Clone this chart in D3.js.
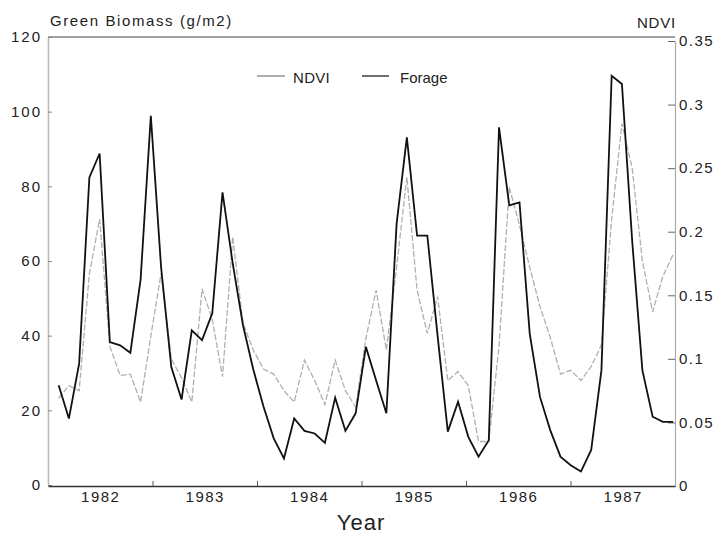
<!DOCTYPE html>
<html>
<head>
<meta charset="utf-8">
<script src="https://cdn.jsdelivr.net/npm/d3@7"></script>
<style>
  body { margin: 0; background: #fff; }
  text { font-family: "Liberation Sans", Arial, sans-serif; fill: #222; }
</style>
</head>
<body>
<div id="chart"></div>
<script>
// observations start at ~1981.6 and come every ~0.098 yr
const startYear = 1981.602;
const stepYear = 0.098;

const forage = [26.7, 17.8, 32.5, 82.4, 88.8, 38.3, 37.4, 35.4, 55, 98.9,
  58.4, 31.6, 22.9, 41.4, 38.8, 46, 78.4, 59.3, 42.8, 31,
  21, 12.5, 7.1, 17.8, 14.5, 13.8, 11.3, 23.4, 14.5, 19.2,
  37, 28, 19.2, 70, 93.1, 66.8, 66.8, 40, 14.3, 22.3,
  12.9, 7.6, 12, 95.8, 74.9, 75.7, 40.5, 23.6, 14.7, 7.6,
  5.3, 3.6, 9.4, 30.7, 109.6, 107.4, 65.5, 30.7, 18.3, 16.9, 16.9];

const ndvi = [0.069, 0.079, 0.075, 0.167, 0.21, 0.11, 0.087, 0.088, 0.066, 0.118,
  0.167, 0.10, 0.085, 0.066, 0.155, 0.131, 0.086, 0.196, 0.128, 0.107,
  0.092, 0.088, 0.075, 0.066, 0.099, 0.083, 0.064, 0.099, 0.075, 0.062,
  0.116, 0.154, 0.107, 0.172, 0.243, 0.154, 0.12, 0.149, 0.083, 0.09,
  0.079, 0.035, 0.035, 0.11, 0.235, 0.205, 0.172, 0.141, 0.117, 0.088,
  0.091, 0.083, 0.094, 0.111, 0.21, 0.285, 0.25, 0.177, 0.137, 0.165, 0.182];

const yearLabels = [1982, 1983, 1984, 1985, 1986, 1987];
const yearBreaks = [1982.5, 1983.5, 1984.5, 1985.5, 1986.5];
const biomassTicks = [0, 20, 40, 60, 80, 100, 120];
const ndviTicks = [0, 0.05, 0.1, 0.15, 0.2, 0.25, 0.3, 0.35];

const width = 721, height = 534;
const plotLeft = 48, plotRight = 675, plotTop = 37, plotBottom = 486;

const svg = d3.select("#chart").append("svg")
  .attr("width", width)
  .attr("height", height);

const x = d3.scaleLinear().domain([1981.5, 1987.5]).range([plotLeft, plotRight]);
const yL = d3.scaleLinear().domain([0, 120]).range([plotBottom - 1, plotTop]);
const yR = d3.scaleLinear().domain([0, 0.35]).range([plotBottom, plotTop + 4]);

const tOf = i => startYear + i * stepYear;

// frame
svg.append("line")
  .attr("x1", plotLeft).attr("x2", plotRight)
  .attr("y1", plotTop).attr("y2", plotTop)
  .attr("stroke", "#444").attr("stroke-width", 1.2);

// left axis
const gL = svg.append("g")
  .attr("transform", `translate(${plotLeft},0)`)
  .call(d3.axisLeft(yL).tickValues(biomassTicks).tickSize(-4).tickPadding(6).tickSizeOuter(0));
gL.select(".domain").attr("stroke", "#bbb").attr("stroke-width", 1.6);
gL.selectAll(".tick line").attr("stroke", "#888");
gL.selectAll("text").style("font-size", "15px").style("letter-spacing", "2px").attr("fill", "#222");

// right axis
const gR = svg.append("g")
  .attr("transform", `translate(${plotRight},0)`)
  .call(d3.axisRight(yR).tickValues(ndviTicks).tickSize(-7).tickPadding(4).tickSizeOuter(0)
    .tickFormat(d => String(+d.toFixed(2))));
gR.select(".domain").attr("stroke", "#aaa").attr("stroke-width", 1.2);
gR.selectAll(".tick line").attr("stroke", "#666");
gR.selectAll("text").style("font-size", "15px").style("letter-spacing", "1.5px").attr("fill", "#222");

// bottom axis: year labels and half-year breaks
const gB = svg.append("g")
  .attr("transform", `translate(0,${plotBottom})`)
  .call(d3.axisBottom(x).tickValues(yearLabels).tickSize(0).tickPadding(5)
    .tickFormat(d3.format("d")));
gB.select(".domain").attr("stroke", "#333").attr("stroke-width", 1.4);
gB.selectAll("text").style("font-size", "15px").style("letter-spacing", "1.5px").attr("fill", "#222");

const gB2 = svg.append("g")
  .attr("transform", `translate(0,${plotBottom})`)
  .call(d3.axisBottom(x).tickValues(yearBreaks).tickSize(-5).tickFormat(""));
gB2.select(".domain").remove();
gB2.selectAll(".tick line").attr("stroke", "#555");

// series
const ndviLine = d3.line().x((d, i) => x(tOf(i))).y(d => yR(d));
const forageLine = d3.line().x((d, i) => x(tOf(i))).y(d => yL(d));

svg.append("path")
  .datum(ndvi)
  .attr("d", ndviLine)
  .attr("fill", "none")
  .attr("stroke", "#b0b0b0")
  .attr("stroke-width", 1.3)
  .attr("stroke-dasharray", "6,2");

svg.append("path")
  .datum(forage)
  .attr("d", forageLine)
  .attr("fill", "none")
  .attr("stroke", "#111")
  .attr("stroke-width", 1.8)
  .attr("stroke-linejoin", "miter");

// titles
svg.append("text")
  .attr("x", 50).attr("y", 26)
  .style("font-size", "15px").style("letter-spacing", "1.6px")
  .text("Green Biomass (g/m2)");

svg.append("text")
  .attr("x", 676).attr("y", 28)
  .attr("text-anchor", "end")
  .style("font-size", "15px").style("letter-spacing", "0.8px")
  .text("NDVI");

svg.append("text")
  .attr("x", 361).attr("y", 530)
  .attr("text-anchor", "middle")
  .style("font-size", "22px").style("letter-spacing", "1px")
  .text("Year");

// legend
const legend = svg.append("g");
legend.append("line")
  .attr("x1", 257).attr("x2", 285).attr("y1", 76).attr("y2", 76)
  .attr("stroke", "#777").attr("stroke-width", 1.2);
legend.append("text")
  .attr("x", 293).attr("y", 83)
  .style("font-size", "15px").style("letter-spacing", "0.3px")
  .text("NDVI");
legend.append("line")
  .attr("x1", 362).attr("x2", 389).attr("y1", 76).attr("y2", 76)
  .attr("stroke", "#333").attr("stroke-width", 1.4);
legend.append("text")
  .attr("x", 400).attr("y", 83)
  .style("font-size", "15px")
  .text("Forage");
</script>
</body>
</html>
